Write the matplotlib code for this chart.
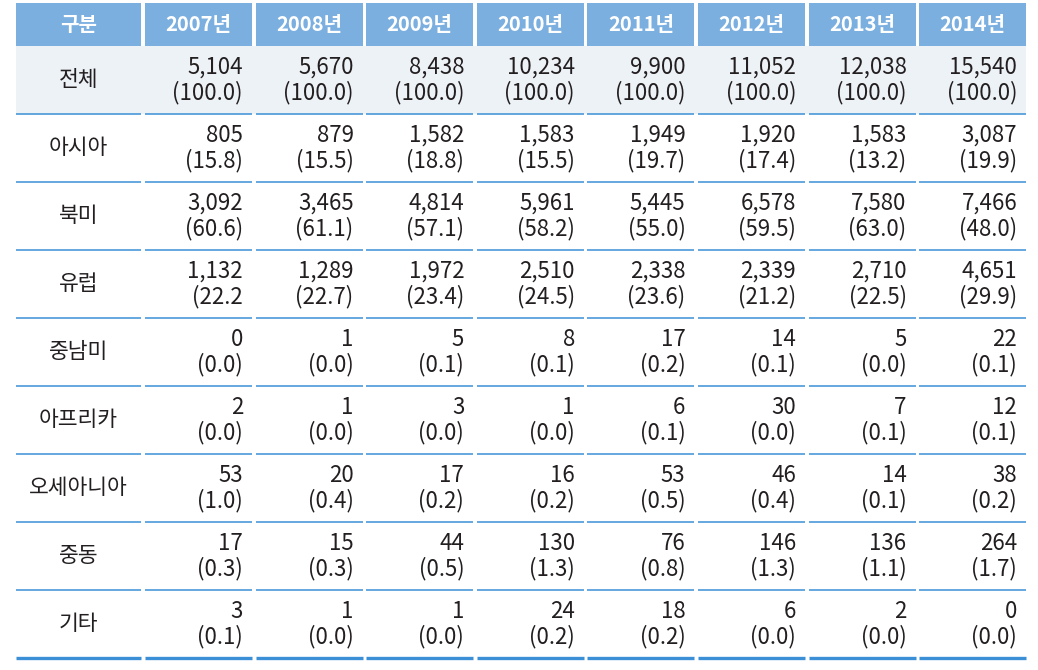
import matplotlib.pyplot as plt
from matplotlib.patches import Rectangle

plt.rcParams['font.family'] = ['Noto Sans CJK KR', 'DejaVu Sans']

years = ["2007년", "2008년", "2009년", "2010년", "2011년", "2012년", "2013년", "2014년"]
regions = ["전체", "아시아", "북미", "유럽", "중남미", "아프리카", "오세아니아", "중동", "기타"]

total = [5104, 5670, 8438, 10234, 9900, 11052, 12038, 15540]
asia = [805, 879, 1582, 1583, 1949, 1920, 1583, 3087]
namerica = [3092, 3465, 4814, 5961, 5445, 6578, 7580, 7466]
europe = [1132, 1289, 1972, 2510, 2338, 2339, 2710, 4651]
samerica = [0, 1, 5, 8, 17, 14, 5, 22]
africa = [2, 1, 3, 1, 6, 30, 7, 12]
oceania = [53, 20, 17, 16, 53, 46, 14, 38]
mideast = [17, 15, 44, 130, 76, 146, 136, 264]
other = [3, 1, 1, 24, 18, 6, 2, 0]

total_pct = ["(100.0)"] * 8
asia_pct = ["(15.8)", "(15.5)", "(18.8)", "(15.5)", "(19.7)", "(17.4)", "(13.2)", "(19.9)"]
namerica_pct = ["(60.6)", "(61.1)", "(57.1)", "(58.2)", "(55.0)", "(59.5)", "(63.0)", "(48.0)"]
europe_pct = ["(22.2", "(22.7)", "(23.4)", "(24.5)", "(23.6)", "(21.2)", "(22.5)", "(29.9)"]
samerica_pct = ["(0.0)", "(0.0)", "(0.1)", "(0.1)", "(0.2)", "(0.1)", "(0.0)", "(0.1)"]
africa_pct = ["(0.0)", "(0.0)", "(0.0)", "(0.0)", "(0.1)", "(0.0)", "(0.1)", "(0.1)"]
oceania_pct = ["(1.0)", "(0.4)", "(0.2)", "(0.2)", "(0.5)", "(0.4)", "(0.1)", "(0.2)"]
mideast_pct = ["(0.3)", "(0.3)", "(0.5)", "(1.3)", "(0.8)", "(1.3)", "(1.1)", "(1.7)"]
other_pct = ["(0.1)", "(0.0)", "(0.0)", "(0.2)", "(0.2)", "(0.0)", "(0.0)", "(0.0)"]

values = [total, asia, namerica, europe, samerica, africa, oceania, mideast, other]
pcts = [total_pct, asia_pct, namerica_pct, europe_pct, samerica_pct,
        africa_pct, oceania_pct, mideast_pct, other_pct]

# layout in pixels
W, H = 1038, 670
first_x0, first_x1 = 16, 141
col_x0 = 145
col_w = 107
col_pitch = 110.6
head_y0, head_y1 = 3, 46
row_h = 68

header_bg = "#7BAFE0"
total_bg = "#EDF2F7"
line_c = "#3A8FD6"
text_c = "#231F20"

fig = plt.figure(figsize=(W / 100, H / 100), dpi=100)
ax = fig.add_axes([0, 0, 1, 1])
ax.set_xlim(0, W)
ax.set_ylim(H, 0)
ax.axis("off")

cells = [(first_x0, first_x1)] + [
    (col_x0 + i * col_pitch, col_x0 + i * col_pitch + col_w) for i in range(len(years))
]

# header
for (x0, x1), label in zip(cells, ["구분"] + years):
    ax.add_patch(Rectangle((x0, head_y0), x1 - x0, head_y1 - head_y0,
                           facecolor=header_bg, edgecolor="none"))
    ax.text((x0 + x1) / 2, (head_y0 + head_y1) / 2, label, color="white",
            fontsize=14.5, ha="center", va="center", fontweight="bold")

# body
for r, (name, vals, pc) in enumerate(zip(regions, values, pcts)):
    y0 = head_y1 + r * row_h
    y1 = y0 + row_h
    yc = (y0 + y1) / 2
    if r == 0:
        ax.add_patch(Rectangle((first_x0, y0), cells[-1][1] - first_x0, row_h,
                               facecolor=total_bg, edgecolor="none"))
    last = r == len(regions) - 1
    for x0, x1 in cells:
        ax.plot([x0, x1], [y1, y1], color=line_c, lw=2.4 if last else 1.1,
                solid_capstyle="butt")
    ax.text((first_x0 + first_x1) / 2, yc, name, color=text_c, fontsize=15.5,
            ha="center", va="center")
    for i, (v, p) in enumerate(zip(vals, pc)):
        xr = cells[i + 1][1] - 9
        ax.text(xr, yc - 13, f"{v:,}", color=text_c, fontsize=16,
                ha="right", va="center")
        ax.text(xr, yc + 13, p, color=text_c, fontsize=16,
                ha="right", va="center")

fig.savefig("out.png", dpi=100, facecolor="white")
